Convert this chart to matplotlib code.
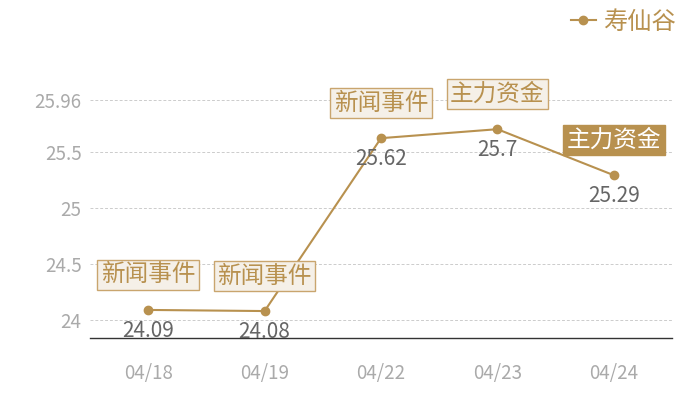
import matplotlib
matplotlib.use("Agg")
import matplotlib.pyplot as plt

plt.rcParams['font.family'] = ['Noto Sans CJK SC', 'DejaVu Sans']

dates = ["04/18", "04/19", "04/22", "04/23", "04/24"]
prices = [24.09, 24.08, 25.62, 25.7, 25.29]
events = ["新闻事件", "新闻事件", "新闻事件", "主力资金", "主力资金"]
yticks = [24, 24.5, 25, 25.5, 25.96]
series_name = "寿仙谷"

GOLD = "#b8914f"
LIGHT_BG = "#f5f0e8"
BORDER = "#c9a56e"

fig = plt.figure(figsize=(7, 4), dpi=100)
ax = fig.add_axes([90 / 700, 62 / 400, 582 / 700, 238 / 400])

x = list(range(len(dates)))
ax.plot(x, prices, color=GOLD, lw=1.5, marker="o", ms=6, label=series_name, zorder=3)

ax.set_xlim(-0.5, len(dates) - 0.5)
ax.set_ylim(23.84, 25.96)
ax.set_xticks(x)
ax.set_xticklabels(dates)
ax.set_yticks(yticks)
ax.set_yticklabels([f"{t:g}" for t in yticks])
ax.tick_params(axis="both", length=0, labelsize=13.5, labelcolor="#aaaaaa")
ax.tick_params(axis="x", pad=18)
ax.tick_params(axis="y", pad=6)

ax.grid(axis="y", color="#cccccc", ls=(0, (3, 2)), lw=0.7)
ax.set_axisbelow(True)
for s in ["left", "right", "top"]:
    ax.spines[s].set_visible(False)
ax.spines["bottom"].set_color("#333333")
ax.spines["bottom"].set_linewidth(1)

# value labels below points
for xi, v in zip(x, prices):
    ax.annotate(f"{v:g}", (xi, v), xytext=(0, -21), textcoords="offset pixels",
                ha="center", va="center", fontsize=15, color="#666666", zorder=4)

# event tags above points
for i, (xi, v, ev) in enumerate(zip(x, prices, events)):
    last = i == len(x) - 1
    ax.annotate(ev, (xi, v), xytext=(0, 35), textcoords="offset pixels",
                ha="center", va="center", fontsize=17,
                color="white" if last else GOLD,
                bbox=dict(boxstyle="square,pad=0.15",
                          fc=GOLD if last else LIGHT_BG,
                          ec=GOLD if last else BORDER, lw=1),
                zorder=5, annotation_clip=False)

leg = fig.legend(loc="upper right", bbox_to_anchor=(0.986, 1.015), frameon=False,
                 fontsize=17.5, handlelength=1.0, handletextpad=0.3,
                 borderaxespad=0.2)
for t in leg.get_texts():
    t.set_color(GOLD)

fig.savefig("out.png", dpi=100)
